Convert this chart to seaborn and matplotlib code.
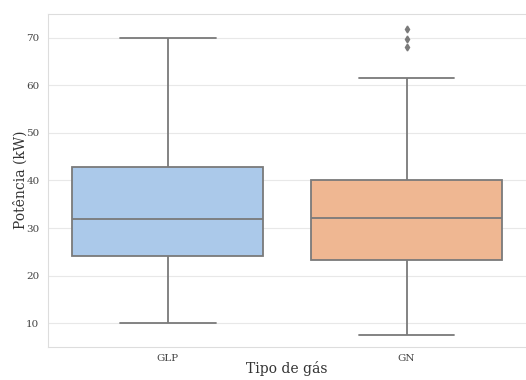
import pandas as pd
import matplotlib
matplotlib.use("Agg")
import matplotlib.pyplot as plt
import seaborn as sns

# amostras (quartis, bigodes e outliers)
glp_kw = [10.1, 18.0, 21.0, 24.2, 27.0, 30.0, 32.0, 36.0, 40.0, 42.9, 55.0, 63.0, 70.0]
gn_kw = [7.5, 15.0, 18.0, 20.0, 23.2, 26.0, 29.0, 31.0, 32.2,
         35.0, 37.0, 39.0, 40.0, 61.5, 68.0, 69.7, 71.8]
gas_types = ["GLP", "GN"]

df = pd.DataFrame({
    "tipo": ["GLP"] * len(glp_kw) + ["GN"] * len(gn_kw),
    "potencia": glp_kw + gn_kw,
})

sns.set_style("whitegrid", {"grid.color": "#e8e8e8"})
plt.rcParams["font.family"] = ["DejaVu Serif"]

fig = plt.figure(figsize=(5.26, 3.8), dpi=100)
ax = fig.add_axes([0.0922, 0.0876, 0.9078, 0.8764])
sns.boxplot(data=df, x="tipo", y="potencia", hue="tipo", order=gas_types,
            palette="pastel", width=0.8, legend=False, ax=ax,
            linecolor="#7a7a7a", linewidth=1.3,
            flierprops={"marker": "d", "markersize": 3.5,
                        "markerfacecolor": "#7a7a7a", "markeredgecolor": "#7a7a7a"})
ax.set_ylim(5.08, 75.04)
ax.set_yticks([10, 20, 30, 40, 50, 60, 70])
ax.tick_params(axis="y", labelsize=7.5, colors="#444444", pad=3)
ax.tick_params(axis="x", labelsize=7.5, colors="#444444", pad=1.5)
ax.set_xlabel("Tipo de gás", fontsize=10, color="#333333", labelpad=-1)
ax.set_ylabel("Potência (kW)", fontsize=10, color="#333333", labelpad=-1)
for s in ax.spines.values():
    s.set_color("#dddddd")
# a borda direita fica fora do recorte na imagem original
ax.spines["right"].set_visible(False)

fig.savefig("out.png", dpi=100)
